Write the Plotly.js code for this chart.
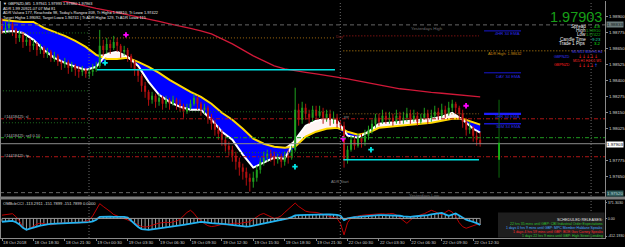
<!DOCTYPE html>
<html><head><meta charset="utf-8">
<script src="https://cdn.plot.ly/plotly-3.0.1.min.js"></script>
<style>html,body{margin:0;padding:0;background:#000;overflow:hidden}#c{width:625px;height:247px}</style>
</head><body><div id="c"></div>
<script>
// ---------- DATA (GBPNZD M5, drawn as 20-minute candles; x = chart hours from 18 Oct 15:30, weekend removed) ----------
const candleStep = 1/3;
const firstOpen = 1.98825;
const close = [1.98794,1.98809,1.98841,1.98794,1.98731,1.98755,1.98700,1.98716,1.98669,1.98684,
1.98637,1.98653,1.98606,1.98622,1.98575,1.98591,1.98544,1.98528,1.98544,1.98497,
1.98512,1.98481,1.98466,1.98481,1.98450,1.98466,1.98481,1.98512,1.98669,1.98637,
1.98684,1.98653,1.98700,1.98669,1.98622,1.98637,1.98591,1.98544,1.98481,1.98434,
1.98356,1.98309,1.98247,1.98278,1.98231,1.98262,1.98216,1.98247,1.98216,1.98247,
1.98216,1.98200,1.98153,1.98184,1.98216,1.98262,1.98216,1.98169,1.98184,1.98106,
1.98059,1.98012,1.97981,1.97934,1.97887,1.97856,1.97809,1.97762,1.97716,1.97684,
1.97637,1.97606,1.97637,1.97700,1.97762,1.97794,1.97825,1.97809,1.97778,1.97794,
1.97762,1.97809,1.97794,1.97856,1.98169,1.98091,1.98184,1.98137,1.98106,1.98169,
1.98122,1.98153,1.98106,1.98137,1.98091,1.98106,1.98059,1.98044,1.97778,1.97856,
1.97934,1.97887,1.97950,1.97919,1.97966,1.98012,1.98059,1.98106,1.98075,1.98122,
1.98091,1.98106,1.98075,1.98122,1.98091,1.98106,1.98137,1.98091,1.98122,1.98075,
1.98106,1.98137,1.98106,1.98122,1.98153,1.98122,1.98169,1.98137,1.98184,1.98216,
1.98184,1.98137,1.98075,1.98012,1.98028,1.97966,1.97934,1.97903];
const high = [1.98887,1.98856,1.98872,1.98856,1.98809,1.98794,1.98778,1.98747,1.98731,1.98716,
1.98700,1.98684,1.98669,1.98653,1.98637,1.98622,1.98606,1.98559,1.98575,1.98559,
1.98544,1.98528,1.98512,1.98512,1.98497,1.98497,1.98528,1.98544,1.98794,1.98716,
1.98731,1.98716,1.98747,1.98731,1.98684,1.98669,1.98653,1.98606,1.98559,1.98497,
1.98450,1.98387,1.98325,1.98309,1.98294,1.98294,1.98278,1.98278,1.98262,1.98278,
1.98262,1.98247,1.98216,1.98216,1.98247,1.98294,1.98278,1.98231,1.98216,1.98200,
1.98137,1.98091,1.98044,1.98012,1.97966,1.97919,1.97887,1.97841,1.97794,1.97747,
1.97716,1.97669,1.97684,1.97731,1.97794,1.97841,1.97856,1.97856,1.97841,1.97825,
1.97825,1.97841,1.97856,1.97887,1.98341,1.98216,1.98231,1.98216,1.98169,1.98200,
1.98200,1.98200,1.98184,1.98169,1.98169,1.98153,1.98137,1.98091,1.98075,1.97887,
1.97966,1.97966,1.97981,1.97981,1.98012,1.98044,1.98091,1.98137,1.98137,1.98169,
1.98153,1.98153,1.98137,1.98169,1.98153,1.98153,1.98184,1.98169,1.98169,1.98153,
1.98137,1.98184,1.98169,1.98169,1.98200,1.98184,1.98216,1.98200,1.98231,1.98247,
1.98231,1.98200,1.98169,1.98106,1.98075,1.98044,1.97997,1.97993];
const low = [1.98762,1.98762,1.98778,1.98747,1.98684,1.98700,1.98653,1.98669,1.98622,1.98637,
1.98591,1.98606,1.98575,1.98575,1.98544,1.98544,1.98512,1.98481,1.98497,1.98450,
1.98466,1.98434,1.98419,1.98434,1.98419,1.98419,1.98434,1.98466,1.98497,1.98591,
1.98606,1.98606,1.98637,1.98622,1.98575,1.98591,1.98544,1.98497,1.98434,1.98387,
1.98309,1.98262,1.98200,1.98216,1.98184,1.98200,1.98169,1.98184,1.98169,1.98200,
1.98169,1.98153,1.98106,1.98137,1.98169,1.98200,1.98169,1.98122,1.98137,1.98059,
1.98012,1.97966,1.97934,1.97887,1.97841,1.97809,1.97762,1.97700,1.97653,1.97622,
1.97575,1.97528,1.97559,1.97606,1.97669,1.97731,1.97762,1.97762,1.97731,1.97747,
1.97716,1.97731,1.97747,1.97778,1.97841,1.98044,1.98059,1.98091,1.98059,1.98075,
1.98091,1.98106,1.98059,1.98075,1.98044,1.98059,1.98028,1.98012,1.97716,1.97747,
1.97841,1.97856,1.97872,1.97872,1.97887,1.97934,1.97981,1.98028,1.98044,1.98059,
1.98059,1.98059,1.98044,1.98059,1.98059,1.98059,1.98075,1.98059,1.98075,1.98044,
1.98059,1.98091,1.98059,1.98075,1.98106,1.98091,1.98106,1.98106,1.98122,1.98153,
1.98137,1.98091,1.98028,1.97966,1.97981,1.97919,1.97887,1.97880];

const bandHours = [0,1,2,3,4,5,6,7,8,9,10,11,12,13,14,15,16,17,18,19,20,21,22,23,24,25,26,27,28,29,30,31,32,33,34,35,36,37,38,39,40,41,42,43,44,45,45.67];
const slowEma = [1.98872,1.98864,1.98856,1.98856,1.98809,1.98778,1.98747,1.98708,1.98661,1.98598,
1.98567,1.98567,1.98575,1.98544,1.98505,1.98458,1.98403,1.98356,1.98309,1.98270,
1.98216,1.98145,1.98091,1.98020,1.97942,1.97903,1.97880,1.97872,1.97880,1.97958,
1.97997,1.98020,1.98028,1.97997,1.97973,1.97989,1.98028,1.98036,1.98044,1.98052,
1.98059,1.98067,1.98083,1.98098,1.98098,1.98067,1.98052];
const fastEma = [1.98778,1.98786,1.98770,1.98716,1.98637,1.98575,1.98536,1.98505,1.98481,1.98505,
1.98606,1.98622,1.98583,1.98512,1.98387,1.98286,1.98231,1.98192,1.98169,1.98169,
1.98091,1.97997,1.97934,1.97817,1.97716,1.97755,1.97794,1.97786,1.97934,1.98044,
1.98083,1.98098,1.98083,1.97966,1.97950,1.97997,1.98059,1.98067,1.98075,1.98083,
1.98091,1.98098,1.98114,1.98145,1.98091,1.98020,1.97989];
const ema200 = [1.99122,1.99106,1.99083,1.99067,1.99051,1.99036,1.99016,1.98997,1.98977,1.98962,
1.98946,1.98930,1.98911,1.98895,1.98880,1.98860,1.98841,1.98825,1.98805,1.98786,
1.98762,1.98723,1.98684,1.98637,1.98591,1.98552,1.98512,1.98489,1.98473,1.98462,
1.98450,1.98438,1.98426,1.98411,1.98395,1.98380,1.98364,1.98348,1.98333,1.98325,
1.98313,1.98305,1.98298,1.98290,1.98282,1.98274,1.98270];

const cciSignal = [-78,-70,-62,-56,-90,-140,-220,-265,-240,-210,
-190,-170,-150,-140,-130,-125,-120,-118,-115,-112,
-110,-108,-108,-100,-95,-85,-70,-30,35,40,
38,40,36,38,35,38,20,-60,-140,-200,
-250,-265,-268,-255,-240,-232,-220,-210,-200,-192,
-180,-165,-150,-135,-120,-100,-85,-80,-90,-105,
-110,-115,-118,-125,-135,-145,-155,-165,-175,-185,
-190,-185,-170,-150,-130,-115,-100,-85,-65,-50,
-40,-20,0,30,70,78,82,88,92,96,
98,99,98,96,92,88,82,60,-40,0,
20,30,35,45,55,65,72,76,78,78,
76,76,74,70,62,50,38,36,45,52,
55,58,75,95,110,125,130,95,60,90,
115,70,10,-30,-55,-75,-110,-151.79];
const cciRaw = [76,90,100,110,40,-60,-200,-270,-230,-170,
-130,-110,-120,-140,-150,-135,-110,-100,-115,-95,
-90,-105,-110,-90,-70,-40,60,190,345,280,
230,160,90,60,20,-10,-40,-70,-100,-150,
-190,-200,-190,-160,-130,-110,-100,-90,-100,-80,
-60,-20,60,140,190,120,10,-60,-120,-170,
-190,-180,-160,-140,-150,-130,-115,-110,-120,-100,
-90,-80,-20,40,90,115,80,30,0,20,
60,140,220,300,359,280,220,170,150,152,
140,120,100,70,40,20,0,-120,-384,-100,
10,40,60,70,80,90,95,100,105,110,
100,112,115,80,20,-60,-115,-40,30,60,
80,110,150,190,160,110,80,140,190,150,
40,-100,-193,-230,-200,-180,-140,-113.29];

const tickHours = [0,3,6,9,12,15,18,21,24,27,30,33,36,39,42,45];
const tickLabels = ["18 Oct 2018","18 Oct 18:30","18 Oct 21:30","19 Oct 00:30","19 Oct 03:30","19 Oct 06:30","19 Oct 09:30","19 Oct 12:30","19 Oct 15:30","19 Oct 18:30","19 Oct 21:30","22 Oct 00:30","22 Oct 03:30","22 Oct 06:30","22 Oct 09:30","22 Oct 12:30"];
const priceTicks = [1.97650,1.97775,1.98025,1.98150,1.98275,1.98400,1.98525,1.98650,1.98775,1.98900];
const cciTicks = [371.3030, 0, -412.1930];
const cciTickLabels = ["371.3030","0.00","-412.1930"];

// levels
const bid = 1.97903, yesterdayHigh = 1.98833, yesterdayLow = 1.97520;
const stopLoss = 1.98098, entryPrice = 1.97950, takeProfit = 1.97801;
const day1Pivots = [1.98770, 1.98317, 1.98067];
const day2Orange = 1.98731, day2Pivots = [1.98153, 1.97833];
const day3Red = 1.98747, day3PP = 1.98137, adrHigh = 1.98630;
const cyanLevels = [1.98481, 1.97778];
const ema34Levels = {"4HR 34 EMA":1.98786, "DAY 34 EMA":1.98458, "1HR 34 EMA":1.98137, "30M 34 EMA":1.98059};
const buyArrowHours = [9.84, 27.98, 35.24], buyArrowPrices = [1.98536, 1.97723, 1.97856];
const sellArrowHours = [11.84, 32.57, 44.32], sellArrowPrices = [1.98755, 1.97942, 1.98200];
const adrBar = {hour:47.47, hi:1.98247, lo:1.97637, hi2:1.97911, lo2:1.97778};
const daySeparators = [8.31, 32.31, 56.26];
const daySpans = [[-0.2,8.31],[8.4,31.8],[32.6,45.56]];

// ---------- BUILD ----------
const FONT = 'Liberation Sans, Arial, sans-serif';
const hours = close.map((_, i) => +(i * candleStep).toFixed(4));
const open = close.map((c, i) => i === 0 ? firstOpen : close[i - 1]);

const traces = [];
const blueLow = fastEma.map((w, i) => Math.min(w, slowEma[i]));
const whiteHigh = fastEma.map((w, i) => Math.max(w, slowEma[i]));
traces.push({x: bandHours, y: slowEma, mode: 'lines', line: {width: 0, color: 'rgba(0,0,0,0)'}});
traces.push({x: bandHours, y: blueLow, mode: 'lines', line: {width: 0, color: 'rgba(0,0,0,0)'}, fill: 'tonexty', fillcolor: '#0000ff'});
traces.push({x: bandHours, y: slowEma, mode: 'lines', line: {width: 0, color: 'rgba(0,0,0,0)'}});
traces.push({x: bandHours, y: whiteHigh, mode: 'lines', line: {width: 0, color: 'rgba(0,0,0,0)'}, fill: 'tonexty', fillcolor: '#fff4f4'});
traces.push({x: bandHours, y: slowEma, mode: 'lines', line: {color: '#ffd800', width: 2}});
traces.push({x: bandHours, y: fastEma, mode: 'lines', line: {color: '#ffffff', width: 2}});
traces.push({x: bandHours, y: ema200, mode: 'lines', line: {color: '#d01838', width: 1.3}});

function candleTraces(up, color) {
  const wx = [], wy = [], bx = [], by = [];
  close.forEach((c, i) => {
    const o = open[i];
    if ((c >= o) !== up) return;
    const h = Math.max(high[i], o, c), l = Math.min(low[i], o, c);
    wx.push(hours[i], hours[i], null); wy.push(l, h, null);
    bx.push(hours[i], hours[i], null); by.push(Math.min(o, c), Math.max(o, c), null);
  });
  traces.push({x: wx, y: wy, mode: 'lines', line: {color, width: 1}});
  traces.push({x: bx, y: by, mode: 'lines', line: {color, width: 2}});
}
candleTraces(true, '#1fa01f');
candleTraces(false, '#b51010');

traces.push({x: buyArrowHours, y: buyArrowPrices, mode: 'markers', marker: {symbol: 'cross', size: 4.5, color: '#00e8e8'}});
traces.push({x: sellArrowHours, y: sellArrowPrices, mode: 'markers', marker: {symbol: 'cross', size: 4.5, color: '#ff00ff'}});

// indicator pane
traces.push({type: 'bar', x: hours, y: cciSignal, width: 0.09, marker: {color: '#a8a8a8', line: {width: 0}}, xaxis: 'x', yaxis: 'y2'});
traces.push({x: hours, y: cciRaw, mode: 'lines', line: {color: '#c00000', width: 1}, xaxis: 'x', yaxis: 'y2'});
traces.push({x: hours, y: cciSignal, mode: 'lines', line: {color: '#22b4f2', width: 1.8}, xaxis: 'x', yaxis: 'y2'});

// ---------- SHAPES ----------
const PW = 605, PB = 238, PH = 237;
const px = x => x / PW, py = y => (PB - y) / PH;
const shapes = [];
function hline(y, x0, x1, color, width, dash) {
  shapes.push({type: 'line', xref: 'x', yref: 'y', x0, x1, y0: y, y1: y, line: {color, width, dash: dash || 'solid'}});
}
const XMIN = -0.191, XMAX = 57.59;
daySeparators.forEach(h => shapes.push({type: 'line', xref: 'x', yref: 'paper', x0: h, x1: h, y0: 0, y1: 1, line: {color: '#6a6a6a', width: 1, dash: '1px,2px'}}));
hline(yesterdayHigh, XMIN, XMAX, '#666666', 1, '4px,3px');
hline(yesterdayLow, XMIN, XMAX, '#666666', 1, '4px,3px');
const DOT = '1px,2px';
day1Pivots.forEach(p => hline(p, daySpans[0][0], daySpans[0][1], '#1e6e1e', 1, DOT));
hline(day2Orange, daySpans[1][0], daySpans[1][1], '#a06a10', 1, DOT);
day2Pivots.forEach(p => hline(p, daySpans[1][0], daySpans[1][1], '#1e6e1e', 1, DOT));
hline(day3Red, daySpans[2][0], daySpans[2][1], '#b01818', 1, DOT);
hline(day3PP, daySpans[2][0], daySpans[2][1], '#a07020', 1, DOT);
hline(adrHigh, daySpans[2][0], XMAX, '#c88a10', 1, DOT);
hline(stopLoss, XMIN, XMAX, '#b01515', 1, '4px,2px,1px,2px');
hline(entryPrice, XMIN, XMAX, '#1f9a1f', 1, '4px,2px,1px,2px');
hline(takeProfit, XMIN, XMAX, '#b01515', 1, '4px,2px,1px,2px');
hline(bid, XMIN, XMAX, '#8c8c8c', 1);
hline(cyanLevels[0], 9.07, 31.8, '#00e5e5', 1.5);
hline(cyanLevels[1], 32.6, 45.56, '#00e5e5', 1.5);
Object.entries(ema34Levels).forEach(([k, v]) => {
  const w = k.startsWith('1HR') ? 2.2 : (k.startsWith('30M') ? 1.5 : 1);
  hline(v, 46.04, 49.57, k.startsWith('1HR') ? '#1e1eff' : '#1818d0', w);
});
shapes.push({type: 'line', xref: 'x', yref: 'y', x0: adrBar.hour, x1: adrBar.hour, y0: adrBar.lo, y1: adrBar.hi, line: {color: '#0c6a0c', width: 1}});
shapes.push({type: 'line', xref: 'x', yref: 'y', x0: adrBar.hour, x1: adrBar.hour, y0: adrBar.lo2, y1: adrBar.hi2, line: {color: '#18d018', width: 1.5}});
shapes.push({type: 'line', xref: 'x', yref: 'y2', x0: 0, x1: hours[hours.length - 1], y0: 0, y1: 0, line: {color: '#9a9a9a', width: 1}});
shapes.push({type: 'line', xref: 'paper', yref: 'paper', x0: px(0.5), x1: px(0.5), y0: 0, y1: 1, line: {color: '#8a8a8a', width: 1}});
shapes.push({type: 'rect', xref: 'paper', yref: 'paper', x0: 0, x1: 625 / PW, y0: py(199.6), y1: py(196.6), fillcolor: '#7c7c7c', line: {width: 0}});
shapes.push({type: 'rect', xref: 'paper', yref: 'paper', x0: px(498), x1: px(604.5), y0: py(237.5), y1: py(212.5), fillcolor: '#1e1e1e', line: {width: 0}});

// ---------- ANNOTATIONS ----------
const ann = [];
function T(x, y, text, color, size, anchor, extra) {
  ann.push(Object.assign({xref: 'paper', yref: 'paper', x: px(x), y: py(y), text, showarrow: false,
    xanchor: anchor || 'left', yanchor: 'middle', borderpad: 0, font: {color, size, family: FONT}}, extra || {}));
}
T(2, 3.6, '▼ GBPNZD,M5  1.97941 1.97993 1.97880 1.97903', '#e8e8e8', 3.9);
T(2, 8.1, 'ADR 1.99 20921.07 07 Mid 81', '#e8e8e8', 3.9);
T(2, 12.6, "ADR Value= 177, Reached= 98, Today's Range= 209, Tt High= 1.98810, Tt Low= 1.97422", '#e8e8e8', 3.9);
T(2, 17.1, 'Target High= 1.99092, Target Low= 1.96741 | Tt ADR High= 129, Tt ADR Low= 115', '#e8e8e8', 3.9);
// right info panel
T(603, 16.6, '1.97903', '#17a017', 14.5, 'right');
T(587, 26.2, 'Spread', '#f0f0f0', 4.6, 'right'); T(602, 26.2, '4.8', '#10e010', 4.3, 'right');
T(587, 30.5, 'High', '#f0f0f0', 4.6, 'right'); T(602, 30.5, '1.98910', '#14b414', 4.0, 'right');
T(587, 34.8, 'Low', '#f0f0f0', 4.6, 'right'); T(602, 34.8, '1.97422', '#14b414', 4.0, 'right');
T(587, 39.1, 'Candle Time', '#f0f0f0', 4.6, 'right'); T(602, 39.1, '9:23', '#18d0a0', 4.3, 'right');
T(587, 43.6, 'Trade 1 Pips', '#f0f0f0', 4.6, 'right'); T(602, 43.6, '3.2', '#10e010', 4.3, 'right');
T(587, 52.3, 'M5 M15 M30 H1 H4', '#3c3cff', 3.4, 'center');
T(571, 56.8, 'GBPNZD', '#3434ff', 3.7, 'right');
ann.push({xref: 'paper', yref: 'paper', x: px(577), y: py(56.8), text: '↓↓↓↓↓', showarrow: false, xanchor: 'left', yanchor: 'middle', borderpad: 0, font: {color: '#ff1e1e', size: 4.8, family: 'DejaVu Sans'}});
T(587, 61, 'M15 H1 H4 D1 W1', '#ff2a2a', 3.4, 'center');
T(571, 65.4, 'GBPNZD', '#ff1e1e', 3.7, 'right');
ann.push({xref: 'paper', yref: 'paper', x: px(577), y: py(65.4), text: '<span style="color:#ff1e1e">↓↓↓↓</span><span style="color:#2a5cff">↑</span>', showarrow: false, xanchor: 'left', yanchor: 'middle', borderpad: 0, font: {color: '#ff1e1e', size: 4.8, family: 'DejaVu Sans'}});
// EMA labels
T(521, 33.6, '4HR 34 EMA', '#2a2ae8', 4.2, 'right');
T(521, 76, 'DAY 34 EMA', '#2a2ae8', 4.2, 'right');
T(521, 116.4, '1HR 34 EMA', '#2a2ae8', 4.2, 'right');
T(521, 127, '30M 34 EMA', '#2a2ae8', 4.2, 'right');
// level labels
T(427, 28.3, 'Yesterdays High', '#6e6e6e', 4.3, 'center');
T(424, 195.6, 'Yesterdays Low', '#6e6e6e', 4.3, 'center');
T(487, 53.6, 'ADR High: 1.98632', '#c88a10', 3.9);
T(343, 117.2, 'PP', '#8a8a8a', 3.9);
T(340, 181.8, 'ADR Start', '#8a8a8a', 3.9, 'center');
T(335, 36.2, 'Day', '#8a2020', 3.9);
T(3, 116.6, '#14418425: sl', '#bdbdbd', 3.9);
T(3, 135.8, '#14418425: sell 0.10', '#bdbdbd', 3.9);
T(3, 155, '#14418425: tp', '#bdbdbd', 3.9);
// axis price boxes
T(606, 144.2, '1.97903', '#000000', 4.4, 'left', {bgcolor: '#ffffff'});
T(606, 25, '1.98833', '#101818', 4.4, 'left', {bgcolor: '#6c7c7c'});
T(606, 193.3, '1.97520', '#b8d8d8', 4.4, 'left', {bgcolor: '#2c5656'});
// indicator header + releases
T(2, 203.6, 'OMBcbCCI -113.2911 -151.7899 -151.7899 0.0000', '#d8d8d8', 4.1);
T(604, 220, 'SCHEDULED RELEASES:', '#e6e6e6', 3.8, 'right');
T(604, 224.2, '22 hrs 35 mins until GBP: CBI Industrial Order Expectations', '#2ec02e', 3.5, 'right');
T(604, 228.2, '1 days 0 hrs 9 mins until GBP: MPC Member Haldane Speaks', '#48aaff', 3.5, 'right');
T(604, 232.2, '1 days 4 hrs 59 mins until GBP: BOE Gov Carney Speaks', '#ff2e2e', 3.5, 'right');
T(604, 236.1, '1 days 22 hrs 9 mins until GBP: High Street Lending', '#2ec02e', 3.5, 'right');

// ---------- LAYOUT ----------
const layout = {
  width: 625, height: 247,
  margin: {l: 0, r: 20, t: 1, b: 9, pad: 0},
  paper_bgcolor: '#000000', plot_bgcolor: '#000000',
  showlegend: false, hovermode: false, barmode: 'overlay',
  font: {family: FONT, color: '#d0d0d0', size: 4.5},
  xaxis: {range: [XMIN, XMAX], domain: [0, 1], anchor: 'y2', showgrid: false, zeroline: false,
    tickmode: 'array', tickvals: tickHours, ticktext: tickLabels, tickangle: 0,
    ticks: 'outside', ticklen: 2, tickcolor: '#8a8a8a', ticklabelposition: 'outside right',
    tickfont: {size: 4.3, color: '#cfcfcf', family: FONT},
    showline: true, linecolor: '#8a8a8a', linewidth: 1, automargin: false},
  yaxis: {domain: [py(196.6), 1], range: [1.97489, 1.99020], side: 'right', anchor: 'x',
    showgrid: false, zeroline: false, tickmode: 'array', tickvals: priceTicks,
    ticktext: priceTicks.map(v => v.toFixed(5)), ticks: 'outside', ticklen: 2, tickcolor: '#8a8a8a',
    tickfont: {size: 4.4, color: '#d8d8d8', family: FONT}, showline: true, linecolor: '#8a8a8a', linewidth: 1, automargin: false},
  yaxis2: {domain: [0, py(199.6)], range: [-458, 440], side: 'right', anchor: 'x',
    showgrid: false, zeroline: false, tickmode: 'array', tickvals: cciTicks, ticktext: cciTickLabels,
    ticks: 'outside', ticklen: 1, tickcolor: '#8a8a8a',
    tickfont: {size: 3.7, color: '#d8d8d8', family: FONT}, showline: true, linecolor: '#8a8a8a', linewidth: 1, automargin: false},
  shapes, annotations: ann
};
traces.forEach(t => { if (!t.type) t.type = 'scatter'; t.hoverinfo = 'skip'; });
Plotly.newPlot('c', traces, layout, {staticPlot: true, displayModeBar: false});
</script>
</body></html>
